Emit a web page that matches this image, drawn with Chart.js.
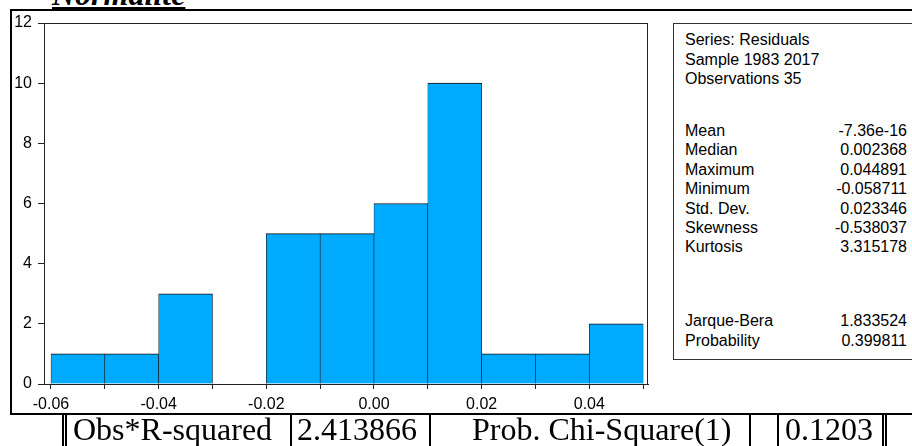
<!DOCTYPE html>
<html>
<head>
<meta charset="utf-8">
<script src="https://cdn.jsdelivr.net/npm/chart.js@4.4.1/dist/chart.umd.min.js"></script>
<style>
  html, body { margin: 0; padding: 0; background: #fff; }
  body { width: 912px; height: 446px; position: relative; overflow: hidden; }
  .heading {
    position: absolute; left: 52px; top: -24px; line-height: 32px;
    font: italic bold 32px "Liberation Serif", "Times New Roman", serif;
    text-decoration: underline; text-decoration-thickness: 4px; text-underline-offset: 2px;
    white-space: nowrap;
  }
  .frame { position: absolute; left: 10px; top: 9px; width: 920px; height: 402px; border: 2px solid #000; }
  #histo { position: absolute; left: 0; top: 0; }
  .stats {
    position: absolute; left: 673px; top: 23px; width: 260px; height: 335px;
    border: 1px solid #333; font: 16px "Liberation Sans", Arial, sans-serif; color: #000;
  }
  .stats .row { position: absolute; left: 11px; width: 222px; height: 20px; line-height: 20px; white-space: nowrap; }
  .stats .row span.v { position: absolute; right: 0; }
  .test { position: absolute; left: 0; top: 413px; width: 912px; height: 33px; font: 32px "Liberation Serif", "Times New Roman", serif; }
  .test .vl { position: absolute; top: 0; width: 1.5px; height: 40px; background: #000; }
  .test .cell { position: absolute; top: 0; line-height: 33px; white-space: nowrap; }
</style>
</head>
<body>
<div class="heading">Normalité</div>
<div class="frame"></div>
<canvas id="histo" width="660" height="413"></canvas>
<div class="stats" id="stats"></div>
<div class="test" id="test"></div>

<script>
// histogram of residuals
const binStarts = [-0.06, -0.05, -0.04, -0.03, -0.02, -0.01, 0.00, 0.01, 0.02, 0.03, 0.04];
const binWidth = 0.01;
const counts = [1, 1, 3, 0, 5, 5, 6, 10, 1, 1, 2];
const xTickLabels = ['-0.06', '-0.04', '-0.02', '0.00', '0.02', '0.04'];
const yTickLabels = ['0', '2', '4', '6', '8', '10', '12'];

// descriptive stats box
const headerLines = ['Series: Residuals', 'Sample 1983 2017', 'Observations 35'];
const statNames = ['Mean', 'Median', 'Maximum', 'Minimum', 'Std. Dev.', 'Skewness', 'Kurtosis'];
const statValues = ['-7.36e-16', '0.002368', '0.044891', '-0.058711', '0.023346', '-0.538037', '3.315178'];
const jbNames = ['Jarque-Bera', 'Probability'];
const jbValues = ['1.833524', '0.399811'];

// test row under the chart
const testLabels = ['Obs*R-squared', '2.413866', 'Prob. Chi-Square(1)', '0.1203'];

const statsBox = document.getElementById('stats');
function addRow(center, name, value) {
  const row = document.createElement('div');
  row.className = 'row';
  row.style.top = (center - 10 - 24) + 'px';
  row.textContent = name;
  if (value !== undefined) {
    const v = document.createElement('span');
    v.className = 'v';
    v.textContent = value;
    row.appendChild(v);
  }
  statsBox.appendChild(row);
}
headerLines.forEach((t, i) => addRow(40 + i * 19.5, t));
statNames.forEach((t, i) => addRow(131 + i * 19.4, t, statValues[i]));
jbNames.forEach((t, i) => addRow(321 + i * 19.5, t, jbValues[i]));

const testRow = document.getElementById('test');
[62, 65, 290, 429, 749, 777, 882, 885].forEach(x => {
  const l = document.createElement('div');
  l.className = 'vl';
  l.style.left = x + 'px';
  testRow.appendChild(l);
});
[73, 297, 472, 785].forEach((x, i) => {
  const c = document.createElement('div');
  c.className = 'cell';
  c.style.left = x + 'px';
  c.textContent = testLabels[i];
  testRow.appendChild(c);
});

const plotFrame = {
  id: 'plotFrame',
  afterDraw(chart) {
    const { ctx, chartArea } = chart;
    ctx.save();
    ctx.strokeStyle = '#222';
    ctx.lineWidth = 1;
    ctx.strokeRect(chartArea.left + 0.5, chartArea.top + 0.5, chartArea.width - 1, chartArea.height);
    ctx.restore();
  }
};

const tickFont = { family: '"Liberation Sans", Arial, sans-serif', size: 16 };

new Chart(document.getElementById('histo'), {
  type: 'bar',
  data: {
    datasets: [{
      data: binStarts.map((s, i) => ({ x: s + binWidth / 2, y: counts[i] })),
      backgroundColor: '#00aaff',
      borderColor: '#111',
      borderWidth: { top: 1, left: 0.6, right: 0.6, bottom: 0 },
      borderSkipped: false,
      barPercentage: 1,
      categoryPercentage: 1
    }]
  },
  options: {
    responsive: false,
    animation: false,
    layout: { padding: { top: 23, right: 12, left: 0, bottom: 0 } },
    plugins: { legend: { display: false }, tooltip: { enabled: false } },
    scales: {
      x: {
        type: 'linear',
        offset: false,
        min: -0.0613,
        max: 0.0509,
        afterFit: (scale) => { scale.height = 29; },
        grid: { offset: false, drawOnChartArea: false, drawTicks: true, tickLength: 5, color: '#222' },
        border: { color: '#222', width: 1 },
        ticks: {
          stepSize: 0.01,
          includeBounds: false,
          autoSkip: false,
          maxRotation: 0,
          padding: 6,
          color: '#000',
          font: tickFont,
          callback: (v) => {
            const label = (Math.round(v * 100) / 100).toFixed(2);
            return xTickLabels.includes(label) ? label : '';
          }
        }
      },
      y: {
        min: 0,
        max: 12,
        afterFit: (scale) => { scale.width = 44; },
        grid: { drawOnChartArea: false, drawTicks: true, tickLength: 6, color: '#222' },
        border: { color: '#222', width: 1 },
        ticks: {
          stepSize: 2,
          padding: 6,
          color: '#000',
          font: tickFont,
          callback: (v) => yTickLabels.includes(String(v)) ? String(v) : ''
        }
      }
    }
  },
  plugins: [plotFrame]
});
</script>
</body>
</html>
